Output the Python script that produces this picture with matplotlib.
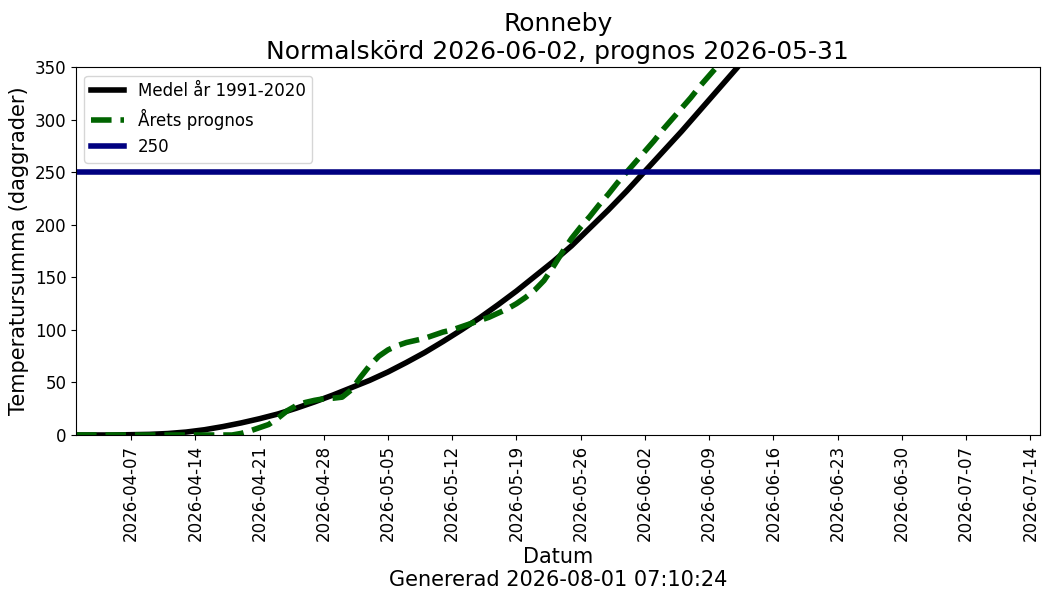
import datetime as dt
import matplotlib
matplotlib.use("Agg")
import matplotlib.pyplot as plt
import matplotlib.dates as mdates

# Medel år 1991-2020 (every second day)
medel_dates = ["2026-04-01", "2026-04-03", "2026-04-05", "2026-04-07", "2026-04-09",
               "2026-04-11", "2026-04-13", "2026-04-15", "2026-04-17", "2026-04-19",
               "2026-04-21", "2026-04-23", "2026-04-25", "2026-04-27", "2026-04-29",
               "2026-05-01", "2026-05-03", "2026-05-05", "2026-05-07", "2026-05-09",
               "2026-05-11", "2026-05-13", "2026-05-15", "2026-05-17", "2026-05-19",
               "2026-05-21", "2026-05-23", "2026-05-25", "2026-05-27", "2026-05-29",
               "2026-05-31", "2026-06-02", "2026-06-04", "2026-06-06", "2026-06-08",
               "2026-06-10", "2026-06-12", "2026-06-14", "2026-06-16", "2026-06-18"]
medel_values = [0, 0, 0, 0.3, 0.6,
                1.4, 2.8, 5, 8, 11.5,
                15.5, 20, 25.5, 31.5, 38,
                45, 52, 60, 69, 78.5,
                89, 100, 111.5, 124, 137,
                151, 165, 180, 197, 214,
                232, 251, 270, 289, 309,
                329, 349, 370, 391, 413]

# Årets prognos
prognos_dates = ["2026-04-01", "2026-04-05", "2026-04-10", "2026-04-15", "2026-04-18",
                 "2026-04-19", "2026-04-20", "2026-04-21", "2026-04-22", "2026-04-23",
                 "2026-04-24", "2026-04-25", "2026-04-26", "2026-04-27", "2026-04-28",
                 "2026-04-29", "2026-04-30", "2026-05-01", "2026-05-02", "2026-05-03",
                 "2026-05-04", "2026-05-05", "2026-05-06", "2026-05-07", "2026-05-08",
                 "2026-05-09", "2026-05-10", "2026-05-11", "2026-05-12", "2026-05-13",
                 "2026-05-14", "2026-05-15", "2026-05-16", "2026-05-17", "2026-05-18",
                 "2026-05-19", "2026-05-20", "2026-05-21", "2026-05-22", "2026-05-23",
                 "2026-05-24", "2026-05-25", "2026-05-26", "2026-05-27", "2026-05-28",
                 "2026-05-29", "2026-05-30", "2026-05-31", "2026-06-01", "2026-06-02",
                 "2026-06-03", "2026-06-04", "2026-06-05", "2026-06-06", "2026-06-07",
                 "2026-06-08", "2026-06-09", "2026-06-10", "2026-06-11"]
prognos_values = [0, 0, 0, 0, 0,
                  1.5, 4, 7, 10, 16,
                  23, 28, 31, 33, 34.5,
                  35, 36, 43, 55, 66,
                  75, 81, 85, 88, 90,
                  92, 95, 98, 100, 103,
                  106, 109, 112, 116, 120,
                  125, 131, 138, 147, 160,
                  174, 187, 198, 208, 219,
                  229, 240, 250, 260, 270,
                  280, 291, 301, 311, 321,
                  332, 342, 352, 362]

grans = 250
title = "Ronneby\nNormalskörd 2026-06-02, prognos 2026-05-31"
generated = "Genererad 2026-08-01 07:10:24"

medel_x = [dt.datetime.strptime(d, "%Y-%m-%d") for d in medel_dates]
prognos_x = [dt.datetime.strptime(d, "%Y-%m-%d") for d in prognos_dates]

fig = plt.figure(figsize=(10.5, 6), dpi=100)
ax = fig.add_axes([0.0724, 0.275, 0.9176, 0.613])

ax.plot(medel_x, medel_values, color="black", lw=4, label="Medel år 1991-2020")
ax.plot(prognos_x, prognos_values, color="darkgreen", lw=4, ls="--", label="Årets prognos")
ax.axhline(grans, color="navy", lw=4, label=str(grans))

ax.set_xlim(dt.datetime(2026, 4, 1), dt.datetime(2026, 7, 15))
ax.set_ylim(0, 350)
ax.xaxis.set_major_locator(mdates.WeekdayLocator(byweekday=mdates.TU))
ax.xaxis.set_major_formatter(mdates.DateFormatter("%Y-%m-%d"))
ax.tick_params(axis="x", labelrotation=90, labelsize=12)
ax.tick_params(axis="y", labelsize=12)

ax.set_title(title, fontsize=18)
ax.set_ylabel("Temperatursumma (daggrader)", fontsize=15)
ax.set_xlabel("Datum\n" + generated, fontsize=15)
ax.legend(loc="upper left", fontsize=12)

fig.savefig("out.png", dpi=100)
